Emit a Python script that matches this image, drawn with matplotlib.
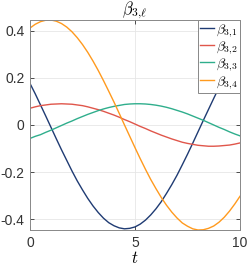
import matplotlib
matplotlib.use("Agg")
import matplotlib.pyplot as plt

t = [0, 0.25, 0.5, 0.75, 1, 1.25, 1.5, 1.75, 2, 2.25, 2.5, 2.75, 3, 3.25, 3.5, 3.75, 4, 4.25,
     4.5, 4.75, 5, 5.25, 5.5, 5.75, 6, 6.25, 6.5, 6.75, 7, 7.25, 7.5, 7.75, 8, 8.25, 8.5, 8.75,
     9, 9.25, 9.5, 9.75, 10]

beta_31 = [0.176, 0.132, 0.085, 0.038, -0.010, -0.058, -0.105, -0.150, -0.195, -0.237, -0.275,
           -0.311, -0.343, -0.371, -0.395, -0.414, -0.427, -0.436, -0.440, -0.438, -0.432,
           -0.420, -0.403, -0.381, -0.355, -0.325, -0.290, -0.253, -0.213, -0.169, -0.124,
           -0.077, -0.029, 0.019, 0.066, 0.113, 0.159, 0.202, 0.244, 0.282, 0.318]
beta_32 = [0.071, 0.077, 0.082, 0.085, 0.088, 0.089, 0.090, 0.089, 0.088, 0.085, 0.082,
           0.077, 0.071, 0.065, 0.058, 0.050, 0.042, 0.033, 0.023, 0.014, 0.004,
           -0.006, -0.015, -0.025, -0.034, -0.043, -0.051, -0.059, -0.066, -0.073, -0.078,
           -0.082, -0.086, -0.088, -0.090, -0.090, -0.089, -0.087, -0.085, -0.081, -0.076]
beta_33 = [-0.057, -0.048, -0.041, -0.031, -0.022, -0.012, -0.002, 0.008, 0.017, 0.027, 0.036,
           0.045, 0.053, 0.061, 0.068, 0.074, 0.079, 0.083, 0.087, 0.089, 0.090,
           0.090, 0.089, 0.087, 0.084, 0.080, 0.075, 0.069, 0.062, 0.055, 0.047,
           0.038, 0.029, 0.020, 0.010, 0.000, -0.010, -0.019, -0.029, -0.038, -0.046]
beta_34 = [0.411, 0.427, 0.438, 0.444, 0.445, 0.440, 0.430, 0.415, 0.395, 0.370, 0.341,
           0.308, 0.271, 0.231, 0.188, 0.143, 0.097, 0.049, 0.000, -0.048, -0.096,
           -0.143, -0.188, -0.231, -0.270, -0.307, -0.340, -0.369, -0.394, -0.415, -0.429,
           -0.440, -0.445, -0.444, -0.438, -0.428, -0.412, -0.391, -0.365, -0.335, -0.302]

series = [beta_31, beta_32, beta_33, beta_34]
labels = [r'$\beta_{3,\!1}$', r'$\beta_{3,\!2}$', r'$\beta_{3,\!3}$', r'$\beta_{3,\!4}$']
colors = ['#1f3b73', '#e0564b', '#2fae8c', '#ff9a1e']

xticks = [0, 5, 10]
yticks = [-0.4, -0.2, 0, 0.2, 0.4]
ytick_labels = ['-0.4', '-0.2', '0', '0.2', '0.4']

plt.rcParams['mathtext.fontset'] = 'cm'
plt.rcParams['font.family'] = ['Liberation Sans', 'DejaVu Sans']

fig = plt.figure(figsize=(2.49, 2.65), dpi=100)
ax = fig.add_axes([30 / 249, 35 / 265, 210 / 249, 210 / 265])

for y, lab, c in zip(series, labels, colors):
    ax.plot(t, y, color=c, lw=1.0, label=lab)

ax.set_xlim(0, 10)
ax.set_ylim(-0.445, 0.445)
ax.set_xticks(xticks)
ax.set_yticks(yticks)
ax.set_yticklabels(ytick_labels)
ax.tick_params(direction='in', length=3, width=0.6, colors='#333333', labelsize=10,
               top=True, right=True, pad=4)
ax.grid(True, color='#e6e6e6', lw=0.6)
ax.set_axisbelow(True)
for s in ax.spines.values():
    s.set_color('#888888')
    s.set_linewidth(0.7)

ax.set_title(r'$\beta_{3,\!\ell}$', fontsize=12, pad=4)
ax.set_xlabel(r'$t$', fontsize=12, labelpad=0)

leg = ax.legend(loc='upper right', fontsize=10, handlelength=1.0, handletextpad=0.15,
                borderpad=0.15, labelspacing=0.0, borderaxespad=0.0, fancybox=False,
                framealpha=1.0)
leg.get_frame().set_edgecolor('#888888')
leg.get_frame().set_linewidth(0.7)

fig.savefig('out.png', dpi=100)
